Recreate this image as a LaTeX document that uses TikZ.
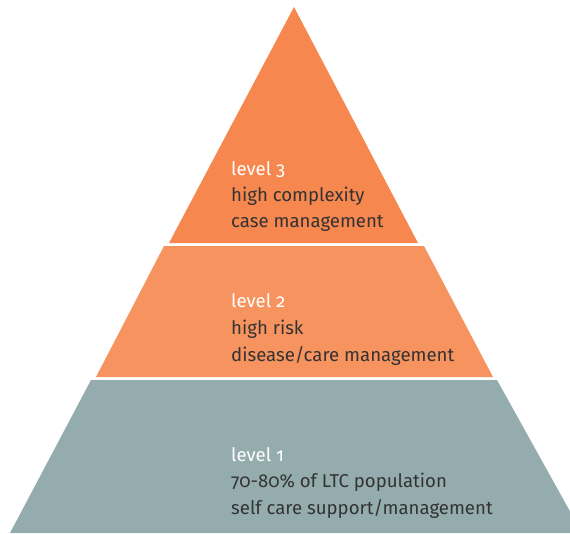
\documentclass[tikz,border=0pt]{standalone}
\usepackage{fontspec}
\setmainfont{Fira Sans}[Numbers=OldStyle]
\usepackage{xcolor}
\usetikzlibrary{positioning,calc}

\definecolor{topOrange}{HTML}{F5874F}
\definecolor{midOrange}{HTML}{F6935E}
\definecolor{baseGrey}{HTML}{95ACAF}
\definecolor{textGrey}{HTML}{333333}

\begin{document}
\begin{tikzpicture}[
    x=1pt, y=-1pt,
    layer/.style={draw=none},
    lvl/.style={anchor=base west, inner sep=0pt, font=\fontsize{18.6}{26}\selectfont, text=white},
    txt/.style={lvl, text=textGrey}
]
    \useasboundingbox (0,0) rectangle (570,533);

    % Layers of the pyramid
    \begin{scope}
        \clip (0,0) rectangle (570,533);
        \fill [layer, topOrange] (294,7) -- (418,243) -- (169,243) -- cycle;
        \fill [layer, midOrange] (164,246) -- (424,246) -- (493,377) -- (96,377) -- cycle;
        \fill [layer, baseGrey] (91,380) -- (497,380) -- (582,533) -- (10,533) -- cycle;
    \end{scope}

    % Labels
    \node [lvl] (lvl3) at (231,175) {level 3};
    \node [txt] (lvl3a) at (231,201) {high complexity};
    \node [txt] (lvl3b) at (231,227) {case management};

    \node [lvl] (lvl2) at (231,307) {level 2};
    \node [txt] (lvl2a) at (231,334) {high risk};
    \node [txt] (lvl2b) at (231,361) {disease/care management};

    \node [lvl] (lvl1) at (231,461) {level 1};
    \node [txt] (lvl1a) at (231,487) {70-80\% of LTC population};
    \node [txt] (lvl1b) at (231,514) {self care support/management};
\end{tikzpicture}
\end{document}
